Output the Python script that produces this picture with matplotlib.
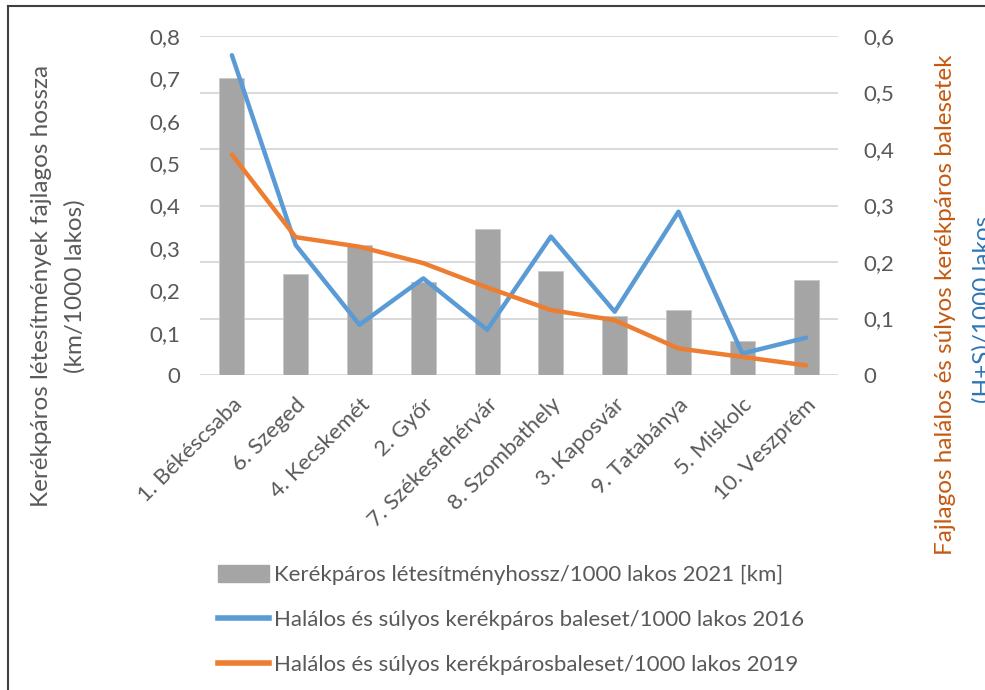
import numpy as np
import matplotlib
matplotlib.use("Agg")
import matplotlib.pyplot as plt
from matplotlib.lines import Line2D

cities = ["1. Békéscsaba", "6. Szeged", "4. Kecskemét", "2. Győr", "7. Székesfehérvár",
          "8. Szombathely", "3. Kaposvár", "9. Tatabánya", "5. Miskolc", "10. Veszprém"]
infra_2021 = [0.70, 0.239, 0.307, 0.219, 0.344, 0.246, 0.139, 0.154, 0.080, 0.225]
acc_2016 = [0.566, 0.230, 0.089, 0.171, 0.080, 0.245, 0.112, 0.289, 0.038, 0.066]
acc_2019 = [0.390, 0.244, 0.227, 0.198, 0.155, 0.115, 0.097, 0.047, 0.032, 0.017]

left_ticks = [0, 0.1, 0.2, 0.3, 0.4, 0.5, 0.6, 0.7, 0.8]
right_ticks = [0, 0.1, 0.2, 0.3, 0.4, 0.5, 0.6]

labels = ["Kerékpáros létesítményhossz/1000 lakos 2021 [km]",
          "Halálos és súlyos kerékpáros baleset/1000 lakos 2016",
          "Halálos és súlyos kerékpárosbaleset/1000 lakos 2019"]

GREY_TXT = "#595959"
FS = 16          # ticks / legend
FS_TITLE = 17.5  # axis titles
plt.rcParams["font.family"] = ["Lato", "DejaVu Sans"]

W, H = 985, 690
fig = plt.figure(figsize=(W / 100, H / 100), dpi=100)
pos = [200 / W, 1 - 375 / H, 638 / W, 339 / H]

# three stacked layers: grid/right ticks, bars (left scale), lines (right scale)
ax = fig.add_axes(pos)
x = np.arange(len(cities))
axb = ax.twinx()
axl = ax.twinx()

ax.set_xlim(-0.5, len(cities) - 0.5)
ax.set_ylim(0, 0.6)
ax.set_yticks(right_ticks)
ax.set_yticklabels([f"{t:g}".replace(".", ",") for t in right_ticks])
ax.yaxis.tick_right()
ax.tick_params(axis="y", length=0, pad=18, labelsize=FS, labelcolor=GREY_TXT)
ax.grid(True, axis="y", color="#D9D9D9", lw=1.4)
ax.set_xticks(x)
ax.set_xticklabels(cities, rotation=45, ha="right", va="top", rotation_mode="anchor")
ax.tick_params(axis="x", length=0, pad=14, labelsize=FS, labelcolor=GREY_TXT)
for s in ax.spines.values():
    s.set_visible(False)

axb.bar(x, infra_2021, width=0.39, color="#A5A5A5", edgecolor="#C8C8C8", lw=0.6, zorder=2)
axb.set_ylim(0, 0.8)
axb.set_yticks(left_ticks)
axb.set_yticklabels([f"{t:g}".replace(".", ",") for t in left_ticks])
axb.yaxis.tick_left()
axb.tick_params(axis="y", length=0, pad=14, labelsize=FS, labelcolor=GREY_TXT)
axb.patch.set_visible(False)
for s in axb.spines.values():
    s.set_visible(False)

axl.plot(x, acc_2016, color="#5B9BD5", lw=3.2, solid_capstyle="round")
axl.plot(x, acc_2019, color="#ED7D31", lw=3.2, solid_capstyle="round")
axl.set_ylim(0, 0.6)
axl.set_yticks([])
axl.patch.set_visible(False)
for s in axl.spines.values():
    s.set_visible(False)

# axis titles
fig.text(42 / W, 1 - 286 / H, "Kerékpáros létesítmények fajlagos hossza", rotation=90,
         ha="center", va="center", fontsize=FS_TITLE, color=GREY_TXT)
fig.text(75 / W, 1 - 286 / H, "(km/1000 lakos)", rotation=90,
         ha="center", va="center", fontsize=FS_TITLE, color=GREY_TXT)
fig.text(945 / W, 1 - 305 / H, "Fajlagos halálos és súlyos kerékpáros balesetek", rotation=90,
         ha="center", va="center", fontsize=FS_TITLE, color="#C55A11")
fig.text(983 / W, 1 - 309 / H, "(H+S)/1000 lakos", rotation=90,
         ha="center", va="center", fontsize=FS_TITLE, color="#2E75B6")

# legend
handles = [plt.Rectangle((0, 0), 1, 1, color="#A5A5A5"),
           Line2D([], [], color="#5B9BD5", lw=4),
           Line2D([], [], color="#ED7D31", lw=4)]
fig.legend(handles, labels, loc="center left", bbox_to_anchor=(218 / W, 1 - 620 / H),
           frameon=False, fontsize=FS, labelcolor=GREY_TXT, handlelength=2.3,
           handleheight=0.8, handletextpad=0.2, labelspacing=1.12, borderpad=0,
           borderaxespad=0)

# outer frame (cropped on right and bottom)
fig.add_artist(Line2D([8 / W, 1], [1 - 6 / H, 1 - 6 / H], transform=fig.transFigure,
                      color="#404040", lw=1.5))
fig.add_artist(Line2D([8 / W, 8 / W], [0, 1 - 6 / H], transform=fig.transFigure,
                      color="#404040", lw=1.5))

fig.savefig("out.png", dpi=100, facecolor="white")
